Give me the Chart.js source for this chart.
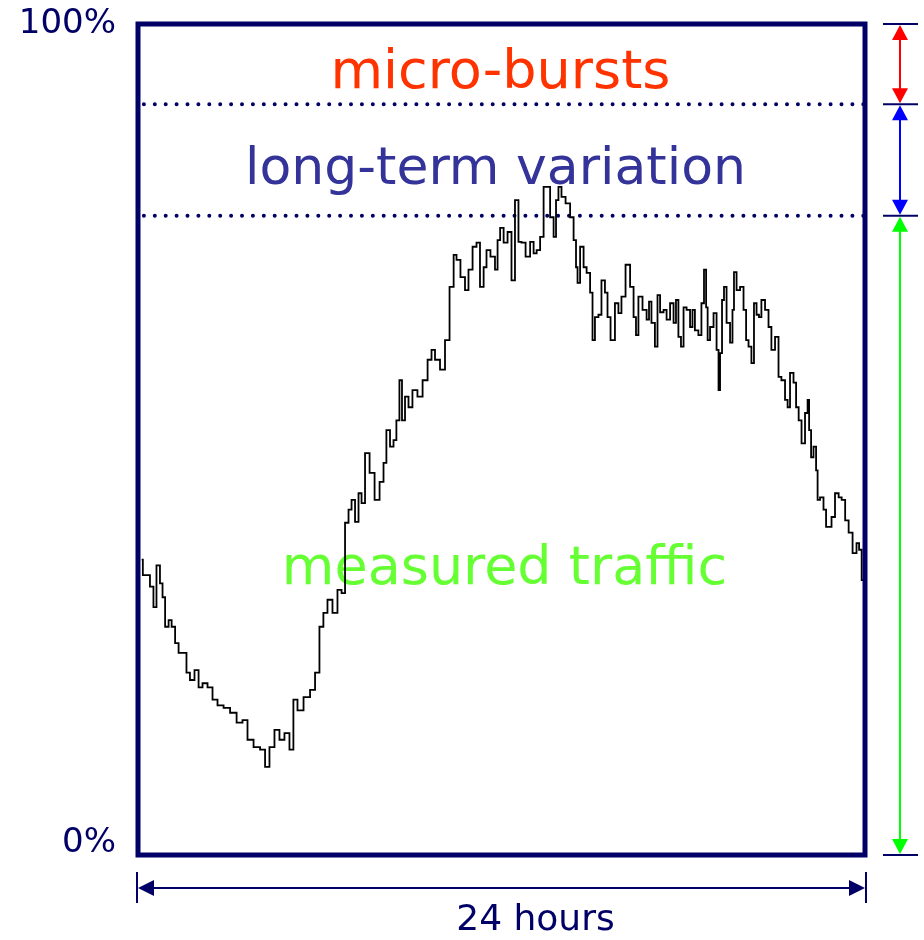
<!DOCTYPE html>
<html>
<head>
<meta charset="utf-8">
<script src="https://cdn.jsdelivr.net/npm/chart.js@4.4.1/dist/chart.umd.min.js"></script>
<style>
  html, body { margin: 0; padding: 0; background: #ffffff; }
  #wrap { width: 924px; height: 940px; position: relative; }
</style>
</head>
<body>
<div id="wrap"><canvas id="c" width="924" height="940"></canvas></div>
<script>
// ---- data ----
const hours = [0.12,0.20,0.33,0.46,0.56,0.66,0.79,0.83,0.96,1.06,1.16,1.29,1.39,1.55,1.65,1.78,1.95,2.05,2.21,2.38,
2.54,2.71,2.94,3.14,3.37,3.53,3.70,3.93,4.13,4.26,4.42,4.59,4.75,4.92,5.08,5.18,5.35,5.58,5.78,5.91,
6.07,6.17,6.34,6.50,6.67,6.77,6.90,7.00,7.10,7.23,7.33,7.43,7.56,7.73,7.89,8.06,8.15,8.25,8.39,8.48,
8.58,8.68,8.75,8.88,8.98,9.14,9.31,9.48,9.64,9.74,9.87,10.07,10.20,10.37,10.47,10.56,10.73,10.86,10.96,11.13,
11.22,11.36,11.46,11.55,11.72,11.85,11.89,12.02,12.12,12.28,12.38,12.51,12.61,12.71,12.88,13.01,13.11,13.21,13.34,13.44,
13.54,13.67,13.77,13.83,13.93,14.03,14.20,14.33,14.43,14.49,14.53,14.66,14.76,14.86,14.99,15.02,15.15,15.25,15.35,15.48,
15.52,15.68,15.81,15.91,16.01,16.18,16.31,16.41,16.47,16.57,16.74,16.84,16.90,17.00,17.13,17.17,17.30,17.40,17.50,17.63,
17.73,17.79,17.89,17.96,18.06,18.16,18.29,18.32,18.45,18.55,18.65,18.72,18.79,18.82,18.95,19.05,19.15,19.18,19.25,19.31,
19.38,19.48,19.61,19.64,19.71,19.81,19.94,20.04,20.11,20.20,20.30,20.37,20.47,20.53,20.63,20.77,20.86,20.96,21.10,21.19,
21.29,21.43,21.46,21.59,21.69,21.76,21.86,21.95,22.09,22.12,22.19,22.25,22.35,22.42,22.45,22.58,22.68,22.75,22.85,22.94,
23.08,23.18,23.28,23.41,23.51,23.67,23.77,23.84,23.94];

const traffic = [34.6,32.7,32.7,31.3,28.8,33.9,31.7,30.0,26.4,27.2,26.4,24.4,23.2,23.2,20.8,19.9,21.1,19.0,19.5,19.0,
17.5,16.8,16.5,15.9,14.7,15.0,12.6,11.7,11.4,9.3,11.7,13.8,12.6,13.4,11.4,17.5,16.2,17.8,18.7,20.8,
26.4,28.1,29.7,28.1,30.9,30.5,39.1,40.7,41.9,39.2,42.7,41.5,47.6,45.2,41.9,44.1,46.4,50.4,48.4,49.2,
51.6,56.5,51.6,54.5,53.2,55.3,54.5,56.5,59.0,60.2,59.0,57.8,61.4,67.9,71.8,71.2,69.1,67.5,70.0,72.8,
73.3,67.9,70.3,72.4,71.6,70.0,73.6,75.1,73.3,74.6,68.7,78.5,73.4,73.3,71.6,73.4,72.0,72.4,74.0,80.1,
80.1,76.4,74.0,78.5,80.1,78.9,78.1,76.4,73.6,70.3,68.4,72.8,70.3,69.6,67.2,61.4,64.2,64.5,68.7,67.2,
64.2,61.4,65.9,64.7,66.7,70.6,67.9,64.2,62.0,66.7,65.1,63.9,66.1,63.5,60.6,66.9,64.8,65.1,63.9,65.9,
63.5,66.3,61.8,60.6,65.4,65.1,63.0,65.1,62.6,62.0,65.9,70.0,65.4,61.4,63.0,64.7,60.2,55.3,59.8,66.3,
67.9,63.5,61.1,65.1,69.7,67.5,67.9,65.1,61.4,60.6,58.6,65.9,64.5,64.2,66.3,65.1,63.0,60.2,61.8,56.9,
56.5,54.1,53.2,57.4,56.2,53.2,51.6,48.8,52.5,54.1,50.4,47.1,48.4,45.5,41.9,42.2,40.7,38.6,38.6,39.8,
42.7,42.2,41.9,39.4,37.9,35.4,36.6,35.8,32.1];

const levels = [90.2, 76.6];          // top of long-term variation, top of measured traffic
const yTicks = [0, 100];
const yTickLabels = ['0%', '100%'];
const bandLabels = ['micro-bursts', 'long-term variation', 'measured traffic'];
const xTitle = '24 hours';
const xRange = [0, 24];

// ---- styling ----
const NAVY = '#000066';
const FONT = "'Comic Sans MS', 'DejaVu Sans', sans-serif";

function arrowHead(ctx, tx, ty, dx, dy, len, half, color) {
  const bx = tx - dx * len, by = ty - dy * len;
  const px = -dy, py = dx;
  ctx.beginPath();
  ctx.moveTo(tx, ty);
  ctx.lineTo(bx + px * half, by + py * half);
  ctx.lineTo(bx - px * half, by - py * half);
  ctx.closePath();
  ctx.fillStyle = color;
  ctx.fill();
}

const annot = {
  id: 'annot',
  beforeDatasetsDraw(chart) {
    const ctx = chart.ctx, xs = chart.scales.x;
    const cx = xs.getPixelForValue(12);
    ctx.save();
    ctx.textAlign = 'center';
    ctx.textBaseline = 'alphabetic';
    ctx.font = '54px ' + FONT;
    ctx.fillStyle = '#ff3300';
    ctx.fillText(bandLabels[0], cx - 1, 88);
    ctx.font = '52px ' + FONT;
    ctx.fillStyle = '#333399';
    ctx.fillText(bandLabels[1], cx - 6, 184);
    ctx.font = '54px ' + FONT;
    ctx.fillStyle = '#66ff33';
    ctx.fillText(bandLabels[2], cx + 3, 584);
    ctx.restore();
  },
  afterDatasetsDraw(chart) {
    const ctx = chart.ctx, ca = chart.chartArea, ys = chart.scales.y;
    ctx.save();
    // frame
    ctx.lineWidth = 5;
    ctx.strokeStyle = NAVY;
    ctx.strokeRect(ca.left, ca.top, ca.right - ca.left, ca.bottom - ca.top);

    // right-hand range arrows
    const ax = ca.right + 35;
    const marks = [ys.getPixelForValue(100), ys.getPixelForValue(levels[0]), ys.getPixelForValue(levels[1]), ca.bottom];
    const cols = ['#ff0000', '#0000ff', '#00ff00'];
    ctx.lineWidth = 2;
    ctx.strokeStyle = NAVY;
    marks.forEach(m => {
      ctx.beginPath(); ctx.moveTo(ax - 17, m); ctx.lineTo(ax + 18, m); ctx.stroke();
    });
    for (let i = 0; i < 3; i++) {
      const a = marks[i], b = marks[i + 1];
      ctx.strokeStyle = cols[i];
      ctx.lineWidth = 2;
      ctx.beginPath(); ctx.moveTo(ax, a + 10); ctx.lineTo(ax, b - 10); ctx.stroke();
      arrowHead(ctx, ax, a + 1, 0, -1, 15, 8, cols[i]);
      arrowHead(ctx, ax, b - 1, 0, 1, 15, 8, cols[i]);
    }

    // bottom 24-hour arrow
    const by = ca.bottom + 33;
    ctx.strokeStyle = NAVY;
    ctx.lineWidth = 2;
    ctx.beginPath();
    ctx.moveTo(ca.left - 1, ca.bottom + 17); ctx.lineTo(ca.left - 1, ca.bottom + 48);
    ctx.moveTo(ca.right + 1, ca.bottom + 17); ctx.lineTo(ca.right + 1, ca.bottom + 48);
    ctx.moveTo(ca.left + 10, by); ctx.lineTo(ca.right - 10, by);
    ctx.stroke();
    arrowHead(ctx, ca.left, by, -1, 0, 16, 8, NAVY);
    arrowHead(ctx, ca.right, by, 1, 0, 16, 8, NAVY);

    ctx.fillStyle = NAVY;
    ctx.font = '36px ' + FONT;
    ctx.textAlign = 'center';
    ctx.textBaseline = 'middle';
    ctx.fillText(xTitle, (ca.left + ca.right) / 2 + 34, 921);
    ctx.restore();
  }
};

const points = hours.map((h, i) => ({ x: h, y: traffic[i] }));
const levelLine = v => [{ x: xRange[0], y: v }, { x: xRange[1], y: v }];
const dotted = {
  borderColor: NAVY,
  borderWidth: 4,
  borderDash: [0, 10.9],
  borderDashOffset: 5,
  borderCapStyle: 'round',
  pointRadius: 0
};

new Chart(document.getElementById('c'), {
  type: 'line',
  data: {
    datasets: [
      {
        data: points,
        borderColor: '#000000',
        borderWidth: 1.8,
        pointRadius: 0,
        stepped: 'middle',
        tension: 0
      },
      Object.assign({ data: levelLine(levels[0]) }, dotted),
      Object.assign({ data: levelLine(levels[1]) }, dotted)
    ]
  },
  options: {
    responsive: false,
    animation: false,
    events: [],
    layout: { padding: { left: 0, top: 24, right: 59, bottom: 85 } },
    plugins: { legend: { display: false }, tooltip: { enabled: false }, title: { display: false } },
    scales: {
      x: {
        type: 'linear', min: xRange[0], max: xRange[1],
        display: false
      },
      y: {
        type: 'linear', min: -1.47, max: 100,
        grid: { display: false, drawTicks: false },
        border: { display: false },
        afterBuildTicks: s => { s.ticks = yTicks.map(v => ({ value: v })); },
        afterFit: s => { s.width = 138; s.paddingTop = 0; s.paddingBottom = 0; },
        ticks: {
          padding: 22,
          color: NAVY,
          font: { family: FONT, size: 34 },
          callback: (v) => yTickLabels[yTicks.indexOf(v)]
        }
      }
    }
  },
  plugins: [annot]
});
</script>
</body>
</html>
